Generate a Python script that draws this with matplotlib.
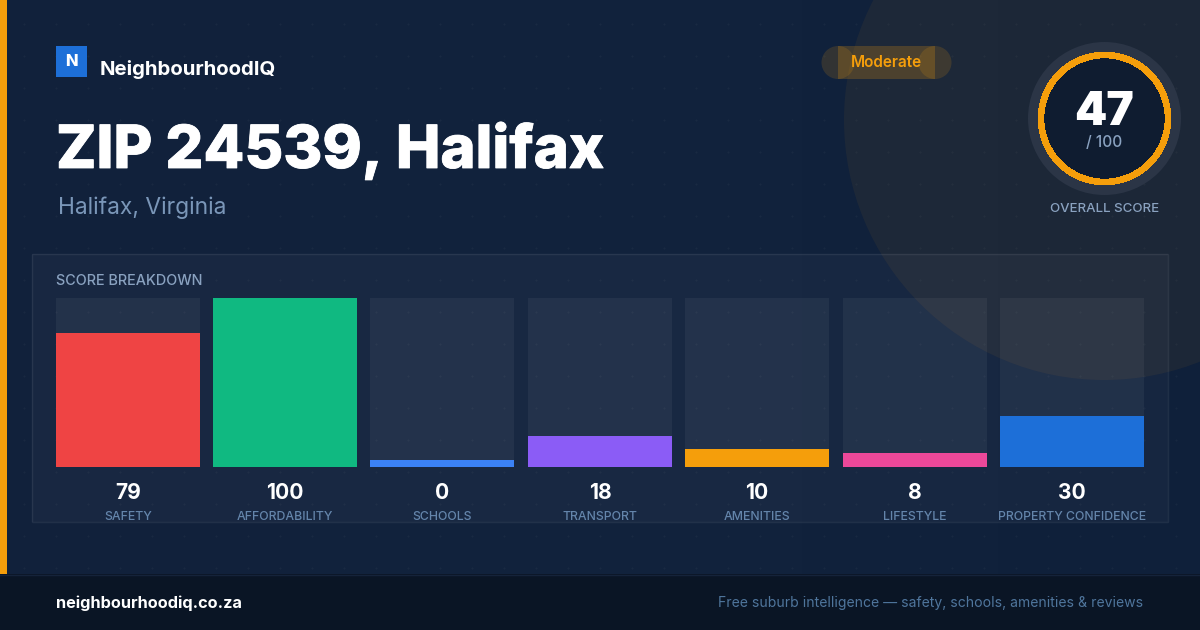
import numpy as np
import matplotlib
matplotlib.use("Agg")
import matplotlib.pyplot as plt
import matplotlib.patheffects as pe
from matplotlib.patches import Circle, Rectangle

categories = ["SAFETY", "AFFORDABILITY", "SCHOOLS", "TRANSPORT", "AMENITIES", "LIFESTYLE", "PROPERTY CONFIDENCE"]
scores = [79, 100, 0, 18, 10, 8, 30]
# drawn lengths, schools keeps a small stub at 0
bar_lengths = [79, 100, 4, 18.3, 10.6, 8.2, 30]
bar_colors = ["#ef4444", "#10b981", "#3b82f6", "#8b5cf6", "#f59e0b", "#ec4899", "#1d6fd8"]
bar_left = [56, 213, 370, 528, 685, 843, 1000]
overall = 47

W, H = 1200, 630
AMBER = "#f59e0b"


def px(size):
    return size * 0.72


plt.rcParams["font.family"] = ["Inter", "DejaVu Sans"]
fig = plt.figure(figsize=(W / 100, H / 100), dpi=100)
ax = fig.add_axes([0, 0, 1, 1])
ax.axis("off")

# background gradient
cmap = matplotlib.colors.LinearSegmentedColormap.from_list("bg", ["#11213b", "#12233d", "#0f203a"])
ax.imshow(np.linspace(0, 1, 256).reshape(1, -1), extent=(0, W, H, 0), aspect="auto", cmap=cmap, zorder=0)
ax.set_xlim(0, W)
ax.set_ylim(H, 0)

# faint dot grid
gx, gy = np.meshgrid(np.arange(24, W, 32), np.arange(24, 574, 32))
ax.scatter(gx.ravel(), gy.ravel(), s=2.5, color="white", alpha=0.035, linewidths=0, zorder=1)

ax.add_patch(Circle((1104, 120), 260, fc=AMBER, alpha=0.06, ec="none", zorder=1))

# left accent and footer
ax.add_patch(Rectangle((0, 0), 7, 574, fc=AMBER, ec="none", zorder=3))
ax.add_patch(Rectangle((0, 574), W, 56, fc="#0a1525", ec="none", zorder=3))
ax.plot([0, W], [574.5, 574.5], color="#15233a", lw=1, zorder=4)

# logo
ax.add_patch(Rectangle((56, 46), 31, 31, fc="#1d6fd8", ec="none", zorder=3))
ax.text(71, 66, "N", color="white", fontsize=px(16.5), fontweight="heavy", ha="center", va="baseline", zorder=4)
ax.text(100, 75, "NeighbourhoodIQ", color="white", fontsize=px(20.35), fontweight="bold", va="baseline", zorder=4)

# stroke thickens the title a bit, the installed heavy weight is lighter than the reference
title = ax.text(56, 168, "ZIP 24539, Halifax", color="white", fontsize=px(59.6), fontweight="heavy", va="baseline", zorder=4)
title.set_path_effects([pe.withStroke(linewidth=0.6, foreground="white")])
ax.text(58, 214, "Halifax, Virginia", color="#7a96b8", fontsize=px(22.8), va="baseline", zorder=4)

# badge, circles overlap the bar so the ends look darker
for cx in (838, 935):
    ax.add_patch(Circle((cx, 62.5), 16.5, fc=AMBER, alpha=0.15, ec="none", zorder=3))
ax.add_patch(Rectangle((838, 46), 97, 33, fc=AMBER, alpha=0.22, ec="none", zorder=3))
ax.text(886.5, 67, "Moderate", color=AMBER, fontsize=px(15.35), fontweight="semibold", ha="center", va="baseline", zorder=4)

# score ring
ax.add_patch(Circle((1104.5, 118.5), 76.5, fc="#2b3546", ec="none", zorder=3))
ax.add_patch(Circle((1104.5, 118.5), 63.5, fc="#0f1c30", ec=AMBER, lw=4.0, zorder=4, antialiased=False))
ax.text(1104.5, 125, str(overall), color="white", fontsize=px(46), fontweight="black", ha="center", va="baseline", zorder=5)
ax.text(1104.5, 147, "/ 100", color="#8aa2c0", fontsize=px(15.5), fontweight="medium", ha="center", va="baseline", zorder=5)
ax.text(1104.5, 212.5, "OVERALL SCORE", color="#8aa2c0", fontsize=px(13.3), fontweight="medium", ha="center", va="baseline", zorder=5)

# breakdown card
ax.add_patch(Rectangle((32, 254), 1136, 268, fc="white", alpha=0.03, ec="none", zorder=2))
ax.add_patch(Rectangle((32, 254), 1136, 268, fc="none", ec=(1, 1, 1, 0.07), lw=1, zorder=2))
ax.text(56, 285, "SCORE BREAKDOWN", color="#8aa2c0", fontsize=px(14.4), fontweight="medium", va="baseline", zorder=4)

# bars are on their own 0-100 scale
bax = fig.add_axes([56 / W, 1 - 467 / H, (1144 - 56) / W, (467 - 298) / H])
bax.set_xlim(56, 1144)
bax.set_ylim(0, 100)
bax.axis("off")
bax.patch.set_alpha(0)
bax.bar(bar_left, [100] * len(scores), width=144, align="edge", color=(1, 1, 1, 0.05), linewidth=0, zorder=1)
bax.bar(bar_left, bar_lengths, width=144, align="edge", color=bar_colors, linewidth=0, zorder=2)

for x, s, c in zip(bar_left, scores, categories):
    ax.text(x + 72, 499, str(s), color="white", fontsize=px(21), fontweight="bold", ha="center", va="baseline", zorder=4)
    ax.text(x + 72, 520.5, c, color="#6485ab", fontsize=px(12.3), fontweight="medium", ha="center", va="baseline", zorder=4)

# footer text
ax.text(56, 608, "neighbourhoodiq.co.za", color="white", fontsize=px(16.3), fontweight="bold", va="baseline", zorder=5)
ax.text(1143, 607, "Free suburb intelligence — safety, schools, amenities & reviews", color="#4f759c", fontsize=px(14),
        ha="right", va="baseline", zorder=5)

fig.savefig("out.png", dpi=100, facecolor="#11213b")
